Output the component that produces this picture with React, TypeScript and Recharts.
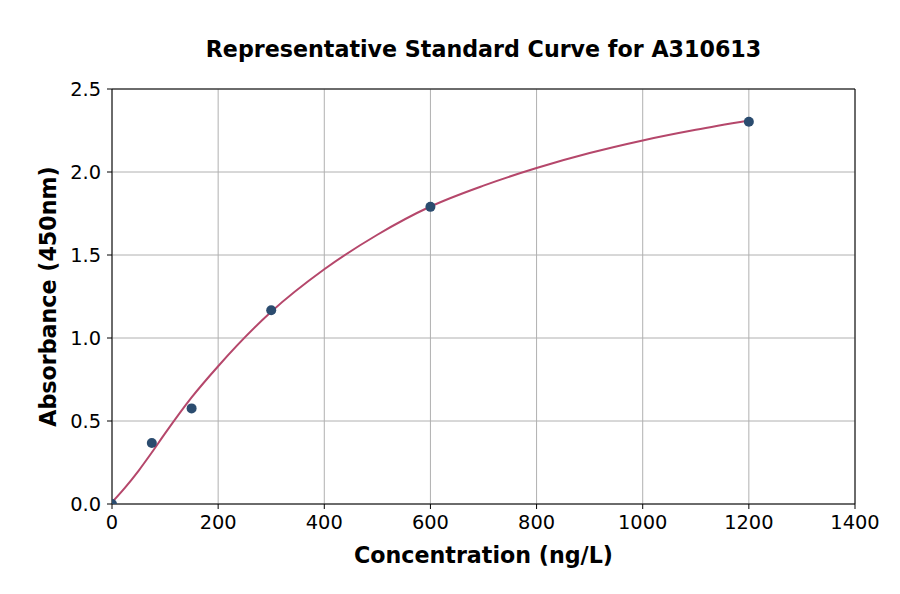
import React from 'react';
import { ComposedChart, Line, Scatter, XAxis, YAxis, CartesianGrid, ReferenceLine } from 'recharts';

const xTicks = [0, 200, 400, 600, 800, 1000, 1200, 1400];
const yTicks = [0, 0.5, 1.0, 1.5, 2.0, 2.5];

const pointConc = [0, 75, 150, 300, 600, 1200];
const pointAbs = [0.0, 0.367, 0.576, 1.167, 1.79, 2.303];

const curveConc = [0, 25, 50, 75, 100, 150, 200, 300, 400, 500, 600, 700, 800, 900, 1000, 1100, 1200];
const curveAbs = [0.01, 0.1, 0.2, 0.31, 0.425, 0.642, 0.83, 1.158, 1.414, 1.622, 1.792, 1.918, 2.024, 2.114, 2.19, 2.254, 2.31];

const points = pointConc.map((x, i) => ({ x, y: pointAbs[i] }));
const curve = curveConc.map((x, i) => ({ x, y: curveAbs[i] }));

const FONT = 'DejaVu Sans, sans-serif';

export default function App() {
  return (
    <div style={{ position: 'absolute', left: 0, top: 0, width: 900, height: 594, background: '#fff' }}>
      <svg width={900} height={594} style={{ position: 'absolute', left: 0, top: 0 }}>
        <text x={483.5} y={57} textAnchor="middle" fontFamily={FONT} fontWeight="bold" fontSize={22.2} fill="#000">
          Representative Standard Curve for A310613
        </text>
        <text x={483.5} y={563} textAnchor="middle" fontFamily={FONT} fontWeight="bold" fontSize={22.2} fill="#000">
          Concentration (ng/L)
        </text>
        <text
          x={0}
          y={0}
          transform="translate(56,296.5) rotate(-90)"
          textAnchor="middle"
          fontFamily={FONT}
          fontWeight="bold"
          fontSize={22.2}
          fill="#000"
        >
          Absorbance (450nm)
        </text>
      </svg>
      <div style={{ position: 'absolute', left: 0, top: 0 }}>
        <ComposedChart width={900} height={594} margin={{ top: 89, right: 45, bottom: 0, left: 0 }}>
          <CartesianGrid
            xAxisId="b"
            yAxisId="l"
            stroke="#b0b0b0"
            strokeWidth={1}
            horizontalValues={yTicks}
            verticalValues={xTicks}
          />
          <XAxis
            xAxisId="b"
            dataKey="x"
            type="number"
            domain={[0, 1400]}
            ticks={xTicks}
            allowDataOverflow
            height={90}
            stroke="#000"
            tickSize={5}
            tickMargin={6}
            tick={{ fill: '#000', fontSize: 19.4, fontFamily: FONT }}
          />
          <YAxis
            yAxisId="l"
            type="number"
            domain={[0, 2.5]}
            ticks={yTicks}
            allowDataOverflow
            width={112}
            stroke="#000"
            tickSize={5}
            tickMargin={6}
            tickFormatter={(v: number) => v.toFixed(1)}
            tick={{ fill: '#000', fontSize: 19.4, fontFamily: FONT }}
          />
          <ReferenceLine xAxisId="b" yAxisId="l" x={1400} stroke="#000" strokeWidth={1} />
          <ReferenceLine xAxisId="b" yAxisId="l" y={2.5} stroke="#000" strokeWidth={1} />
          <Line
            xAxisId="b"
            yAxisId="l"
            data={curve}
            dataKey="y"
            type="monotone"
            stroke="#b5476b"
            strokeWidth={2}
            dot={false}
            isAnimationActive={false}
          />
          <Scatter
            xAxisId="b"
            yAxisId="l"
            data={points}
            dataKey="y"
            fill="#2b4c6f"
            shape={(p: any) => <circle cx={p.cx} cy={p.cy} r={5} fill="#2b4c6f" />}
            isAnimationActive={false}
          />
        </ComposedChart>
      </div>
    </div>
  );
}
